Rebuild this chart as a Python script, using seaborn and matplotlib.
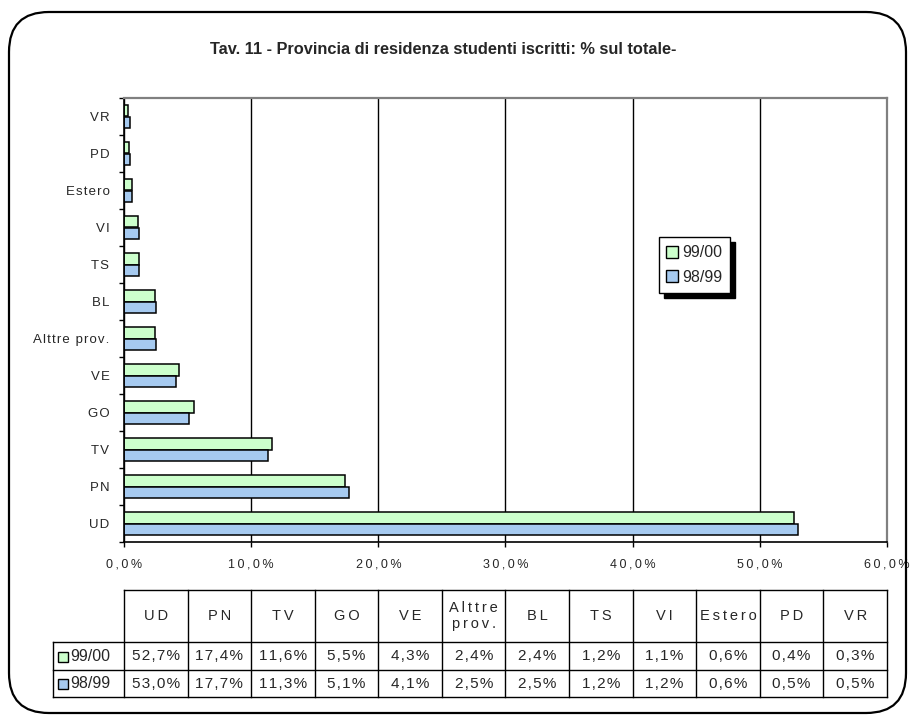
import matplotlib
matplotlib.use("Agg")
import matplotlib.pyplot as plt
import seaborn as sns
import pandas as pd
from matplotlib.patches import FancyBboxPatch
from matplotlib.lines import Line2D
from matplotlib.ticker import FixedLocator, FuncFormatter

# Province of residence of enrolled students, share of total (%)
provinces = ["UD", "PN", "TV", "GO", "VE", "Alttre prov.", "BL", "TS", "VI", "Estero", "PD", "VR"]
share_9900 = [52.7, 17.4, 11.6, 5.5, 4.3, 2.4, 2.4, 1.2, 1.1, 0.6, 0.4, 0.3]
share_9899 = [53.0, 17.7, 11.3, 5.1, 4.1, 2.5, 2.5, 1.2, 1.2, 0.6, 0.5, 0.5]
years = ["99/00", "98/99"]
colors = ["#CCFFCC", "#A6CAF0"]
x_ticks = [0, 10, 20, 30, 40, 50, 60]
title = "Tav. 11 - Provincia di residenza studenti iscritti: % sul totale-"

sns.set_style("white")
plt.rcParams["font.family"] = ["Liberation Sans", "DejaVu Sans"]

W, H = 912, 716
fig = plt.figure(figsize=(W / 100, H / 100), dpi=100)


def fx(px):
    return px / W


def fy(py):
    return 1 - py / H


def spaced(s, gap="\u2009"):
    return gap.join(s)


def pct(v):
    return f"{v:.1f}%".replace(".", ",")


# rounded outer frame
frame = FancyBboxPatch((0.09, 0.03), 8.97, 7.01,
                       boxstyle="round,pad=0,rounding_size=0.4",
                       transform=fig.dpi_scale_trans, facecolor="none",
                       edgecolor="black", linewidth=1.6)
fig.add_artist(frame)

fig.text(fx(443), fy(50), title, ha="center", va="center",
         fontsize=11.8, fontweight="bold")

# ---- bar chart ----
ax = fig.add_axes([fx(124), fy(542), fx(887) - fx(124), fy(98) - fy(542)])
df = pd.DataFrame({
    "provincia": provinces * 2,
    "anno": [years[0]] * len(provinces) + [years[1]] * len(provinces),
    "quota": share_9900 + share_9899,
})
order = provinces[::-1]
sns.barplot(data=df, y="provincia", x="quota", hue="anno", order=order,
            hue_order=years, palette=colors, orient="h", width=0.6,
            edgecolor="black", linewidth=1.1, saturation=1, errorbar=None,
            legend=False, ax=ax)

ax.set_xlim(x_ticks[0], x_ticks[-1])
ax.set_ylim(len(order) - 0.5, -0.5)
ax.set_xlabel("")
ax.set_ylabel("")
ax.set_xticks(x_ticks)
ax.xaxis.set_major_formatter(FuncFormatter(lambda v, p: spaced(pct(v))))
ax.set_yticks(range(len(order)))
ax.set_yticklabels([spaced(p, "\u200a") for p in order])
ax.yaxis.set_minor_locator(FixedLocator([i - 0.5 for i in range(len(order) + 1)]))

ax.tick_params(axis="x", which="major", bottom=True, length=3.6, width=1,
               color="black", direction="out", pad=8, labelsize=9)
ax.tick_params(axis="y", which="major", left=False, length=0, pad=10.5,
               labelsize=9.5)
ax.tick_params(axis="y", which="minor", left=True, length=3.6, width=1,
               color="black", direction="out")

ax.set_axisbelow(True)
ax.xaxis.grid(True, color="black", linewidth=1.0)
ax.yaxis.grid(False)
for side in ("left", "bottom"):
    ax.spines[side].set_color("black")
    ax.spines[side].set_linewidth(1.2)
for side in ("top", "right"):
    ax.spines[side].set_color("#808080")
    ax.spines[side].set_linewidth(1.6)

handles = [Line2D([], [], marker="s", linestyle="none", markersize=8,
                  markerfacecolor=c, markeredgecolor="black",
                  markeredgewidth=1.0) for c in colors]
leg = ax.legend(handles, years, loc="center",
                bbox_to_anchor=(fx(694.5), fy(265)),
                bbox_transform=fig.transFigure, frameon=True, fancybox=False,
                fontsize=11.5, handlelength=0.7, handletextpad=0.25,
                borderpad=0.5, labelspacing=0.6,
                shadow={"ox": 3.6, "oy": -3.6, "facecolor": "black",
                        "edgecolor": "black", "alpha": 1})
leg.get_frame().set_edgecolor("black")
leg.get_frame().set_linewidth(1.0)
leg.get_frame().set_facecolor("white")

# ---- data table ----
ncol = len(provinces)
col_w = (887 - 124) / ncol
lab_w = (124 - 53) / col_w
tab = fig.add_axes([fx(53), fy(697), fx(887) - fx(53), fy(590) - fy(697)])
tab.set_xlim(-lab_w, ncol)
tab.set_ylim(107, 0)
tab.axis("off")

line_kw = dict(color="black", linewidth=1.0, clip_on=False, solid_capstyle="projecting")
tab.plot([0, ncol], [0, 0], **line_kw)
for yy in (52, 80, 107):
    tab.plot([-lab_w, ncol], [yy, yy], **line_kw)
tab.plot([-lab_w, -lab_w], [52, 107], **line_kw)
for i in range(ncol + 1):
    tab.plot([i, i], [0, 107], **line_kw)

for i, name in enumerate(provinces):
    label = "\n".join(spaced(part) for part in name.split(" "))
    tab.text(i + 0.5, 26, label, ha="center", va="center", fontsize=10.5,
             linespacing=1.15)
    tab.text(i + 0.5, 66.5, spaced(pct(share_9900[i]), "\u200a"),
             ha="center", va="center", fontsize=11)
    tab.text(i + 0.5, 94, spaced(pct(share_9899[i]), "\u200a"),
             ha="center", va="center", fontsize=11)

for yy, yr, c in zip((66.5, 94), years, colors):
    tab.plot([-lab_w + 10 / col_w], [yy], marker="s", markersize=7.5,
             markerfacecolor=c, markeredgecolor="black", markeredgewidth=1.0,
             clip_on=False)
    tab.text(-lab_w + 17 / col_w, yy, yr, ha="left", va="center",
             fontsize=11.5)

fig.savefig("out.png", dpi=100)
